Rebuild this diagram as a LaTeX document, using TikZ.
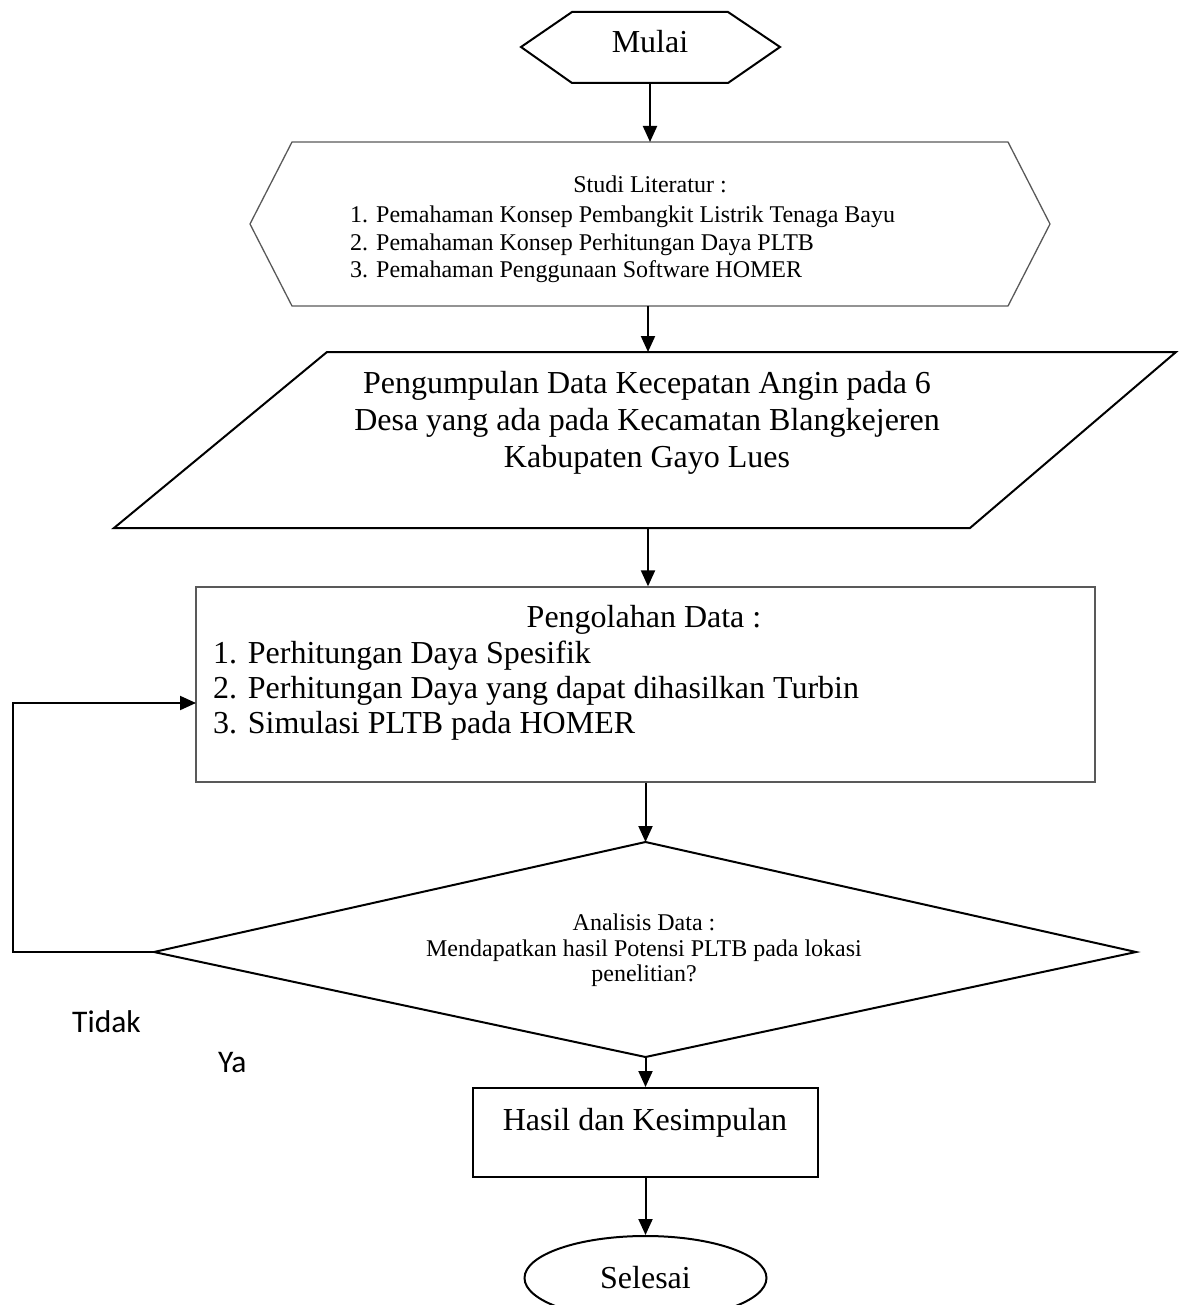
\documentclass[tikz,border=0pt]{standalone}
\usepackage{fontspec}
\setmainfont{Liberation Serif}
\newfontfamily\calfont{Carlito}
\usetikzlibrary{arrows.meta,shapes.geometric}
\tikzset{
  arr/.style={-{Triangle[length=16pt,width=14pt]}, line width=2pt},
  shp/.style={draw=black, line width=2pt},
  gshp/.style={draw=black!65, line width=1.3pt},
  big/.style={font=\fontsize{32}{30}\selectfont, inner sep=0pt},
  small/.style={font=\fontsize{24}{27}\selectfont, inner sep=0pt},
  lab/.style={font=\calfont\fontsize{31.5}{34}\selectfont, inner sep=0pt},
}
\begin{document}
\begin{tikzpicture}[x=1pt,y=-1pt]
\useasboundingbox (0,0) rectangle (1178,1305);

% Mulai
\draw[shp] (521,47) -- (572,12) -- (728,12) -- (780,47) -- (728,83) -- (572,83) -- cycle;
\node[big,anchor=base] (mulai) at (650,53) {Mulai};
\coordinate (mulaiB) at (650,83);

% Studi Literatur
\coordinate (studiT) at (650,142);
\coordinate (studiB) at (648,306);
\draw[gshp] (250,224) -- (292,142) -- (1008,142) -- (1050,224) -- (1008,306) -- (292,306) -- cycle;
\node[small,anchor=base] (studi0) at (650,193) {Studi Literatur :};
\node[small,anchor=base west] (studi1) at (350,223) {1. Pemahaman Konsep Pembangkit Listrik Tenaga Bayu};
\node[small,anchor=base west] (studi2) at (350,251) {2. Pemahaman Konsep Perhitungan Daya PLTB};
\node[small,anchor=base west] (studi3) at (350,278) {3. Pemahaman Penggunaan Software HOMER};

% Pengumpulan data
\coordinate (dataT) at (648,352);
\coordinate (dataB) at (648,528);
\draw[shp] (327,352) -- (1176,352) -- (970,528) -- (114,528) -- cycle;
\node[big,anchor=base] (data1) at (647,393) {Pengumpulan Data Kecepatan Angin pada 6};
\node[big,anchor=base] (data2) at (647,430) {Desa yang ada pada Kecamatan Blangkejeren};
\node[big,anchor=base] (data3) at (647,467) {Kabupaten Gayo Lues};

% Pengolahan data
\node[gshp, rectangle, minimum width=899pt, minimum height=195pt, inner sep=0pt] (proc) at (645.5,684.5) {};
\node[big,anchor=base] (proc0) at (644,627) {Pengolahan Data :};
\node[big,anchor=base west] (proc1) at (213,663) {1. Perhitungan Daya Spesifik};
\node[big,anchor=base west] (proc2) at (213,698) {2. Perhitungan Daya yang dapat dihasilkan Turbin};
\node[big,anchor=base west] (proc3) at (213,733) {3. Simulasi PLTB pada HOMER};
\coordinate (fbEnd) at (196,703);
\coordinate (fbX) at (13,800);

% Analisis (diamond)
\coordinate (diaT) at (645.5,842);
\coordinate (diaR) at (1136,952);
\coordinate (diaB) at (645.5,1057);
\coordinate (diaL) at (154,952);
\draw[shp] (diaT) -- (diaR) -- (diaB) -- (diaL) -- cycle;
\node[small,anchor=base] (ana0) at (644,930) {Analisis Data :};
\node[small,anchor=base] (ana1) at (644,956) {Mendapatkan hasil Potensi PLTB pada lokasi};
\node[small,anchor=base] (ana2) at (644,981) {penelitian?};

\node[lab,anchor=base west] (tidak) at (72,1032) {Tidak};
\node[lab,anchor=base west] (ya) at (218,1072) {Ya};

% Hasil
\node[shp, rectangle, minimum width=345pt, minimum height=89pt, inner sep=0pt] (hasil) at (645.5,1132.5) {};
\node[big,anchor=base] (hasilT) at (645,1130) {Hasil dan Kesimpulan};

% Selesai
\node[shp, ellipse, minimum width=242pt, minimum height=84pt, inner sep=0pt, big] (selesai) at (645.5,1278) {Selesai};

% connectors
\draw[arr] (mulaiB) -- (studiT);
\draw[arr] (studiB) -- (dataT);
\draw[arr] (dataB) -- (dataB |- proc.north);
\draw[arr] (proc.south) -- (diaT);
\draw[arr] (diaB) -- (hasil.north);
\draw[arr] (hasil.south) -- (selesai.north);
\draw[arr] (diaL) -| (fbX) |- (fbEnd);
\end{tikzpicture}
\end{document}
